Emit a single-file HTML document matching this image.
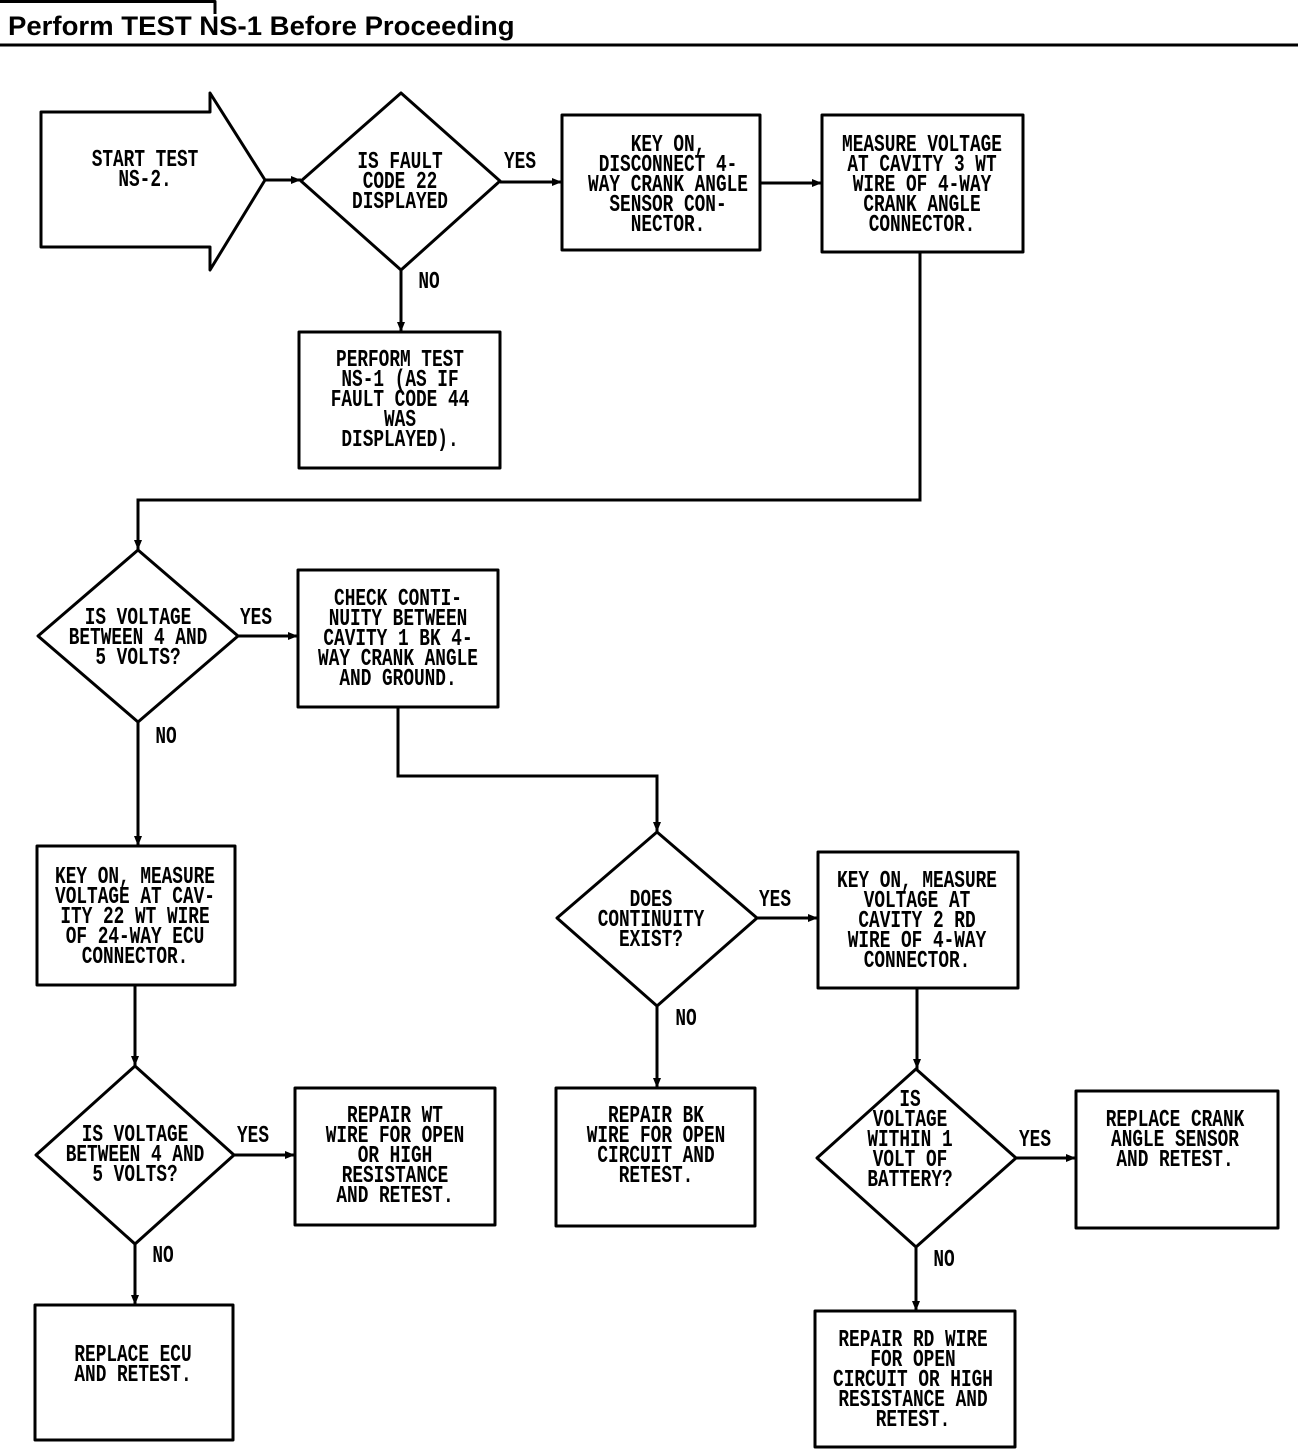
<!DOCTYPE html>
<html><head><meta charset="utf-8"><style>
body{margin:0;width:1312px;height:1450px;background:#fff;position:relative;overflow:hidden}
svg{position:absolute;left:0;top:0}
.t{position:absolute;width:300px;text-align:center;white-space:pre;line-height:20px;font:bold 24px/20px "Liberation Mono",monospace;color:#000;transform:scaleX(0.74);transform-origin:center;margin-top:3px}
.h{position:absolute;left:8px;top:11px;font:bold 27px "Liberation Sans",sans-serif;transform:scaleX(1.02);transform-origin:left;white-space:nowrap}
</style></head><body>
<svg width="1312" height="1450" viewBox="0 0 1312 1450">
<defs><marker id="a" markerWidth="10" markerHeight="8" refX="10" refY="4" orient="auto" markerUnits="userSpaceOnUse"><path d="M0,0L10,4L0,8Z" fill="#000"/></marker></defs>
<g fill="none" stroke="#000" stroke-width="3" stroke-linejoin="round">
<path d="M0,1.5H215V14"/>
<path d="M0,45H1298"/>
<polygon points="41,112 210,112 210,93 265,180 210,270 210,247 41,247"/>
<polygon points="401,93 500,181 401,270 301,181"/>
<polygon points="138,550 238,636 138,722 38,636"/>
<polygon points="135,1066 234,1155 135,1244 36,1155"/>
<polygon points="657,832 757,918 657,1006 557,918"/>
<polygon points="916,1069 1016,1158 916,1247 817,1158"/>
<rect x="562" y="115" width="198" height="135"/>
<rect x="822" y="115" width="201" height="137"/>
<rect x="299" y="332" width="201" height="136"/>
<rect x="298" y="570" width="200" height="137"/>
<rect x="37" y="846" width="198" height="139"/>
<rect x="295" y="1088" width="200" height="137"/>
<rect x="35" y="1305" width="198" height="135"/>
<rect x="818" y="852" width="200" height="136"/>
<rect x="556" y="1088" width="199" height="138"/>
<rect x="1076" y="1091" width="202" height="137"/>
<rect x="815" y="1311" width="200" height="136"/>
</g>
<g fill="none" stroke="#000" stroke-width="3" marker-end="url(#a)">
<path d="M265,180H301"/>
<path d="M500,182H562"/>
<path d="M760,183H822"/>
<path d="M401,270V332"/>
<path d="M920,252V500H138V550"/>
<path d="M238,636H298"/>
<path d="M398,707V776H657V832"/>
<path d="M138,722V846"/>
<path d="M135,985V1066"/>
<path d="M234,1155H295"/>
<path d="M135,1244V1305"/>
<path d="M757,918H818"/>
<path d="M657,1006V1088"/>
<path d="M917,988V1069"/>
<path d="M1016,1158H1076"/>
<path d="M916,1247V1311"/>
</g>
</svg>
<div class="h">Perform TEST NS-1 Before Proceeding</div>
<div class="t" style="left:-5px;top:148px">START TEST
NS-2.</div>
<div class="t" style="left:250px;top:150px">IS FAULT
CODE 22
DISPLAYED</div>
<div class="t" style="left:370px;top:150px">YES</div>
<div class="t" style="left:279px;top:270px">NO</div>
<div class="t" style="left:518px;top:133px">KEY ON,
DISCONNECT 4-
WAY CRANK ANGLE
SENSOR CON-
NECTOR.</div>
<div class="t" style="left:772px;top:133px">MEASURE VOLTAGE
AT CAVITY 3 WT
WIRE OF 4-WAY
CRANK ANGLE
CONNECTOR.</div>
<div class="t" style="left:250px;top:348px">PERFORM TEST
NS-1 (AS IF
FAULT CODE 44
WAS
DISPLAYED).</div>
<div class="t" style="left:-12px;top:606px">IS VOLTAGE
BETWEEN 4 AND
5 VOLTS?</div>
<div class="t" style="left:106px;top:606px">YES</div>
<div class="t" style="left:16px;top:725px">NO</div>
<div class="t" style="left:248px;top:587px">CHECK CONTI-
NUITY BETWEEN
CAVITY 1 BK 4-
WAY CRANK ANGLE
AND GROUND.</div>
<div class="t" style="left:-15px;top:865px">KEY ON, MEASURE
VOLTAGE AT CAV-
ITY 22 WT WIRE
OF 24-WAY ECU
CONNECTOR.</div>
<div class="t" style="left:-15px;top:1123px">IS VOLTAGE
BETWEEN 4 AND
5 VOLTS?</div>
<div class="t" style="left:103px;top:1124px">YES</div>
<div class="t" style="left:13px;top:1244px">NO</div>
<div class="t" style="left:245px;top:1104px">REPAIR WT
WIRE FOR OPEN
OR HIGH
RESISTANCE
AND RETEST.</div>
<div class="t" style="left:-17px;top:1343px">REPLACE ECU
AND RETEST.</div>
<div class="t" style="left:501px;top:888px">DOES
CONTINUITY
EXIST?</div>
<div class="t" style="left:625px;top:888px">YES</div>
<div class="t" style="left:536px;top:1007px">NO</div>
<div class="t" style="left:767px;top:869px">KEY ON, MEASURE
VOLTAGE AT
CAVITY 2 RD
WIRE OF 4-WAY
CONNECTOR.</div>
<div class="t" style="left:506px;top:1104px">REPAIR BK
WIRE FOR OPEN
CIRCUIT AND
RETEST.</div>
<div class="t" style="left:760px;top:1088px">IS
VOLTAGE
WITHIN 1
VOLT OF
BATTERY?</div>
<div class="t" style="left:885px;top:1128px">YES</div>
<div class="t" style="left:794px;top:1248px">NO</div>
<div class="t" style="left:1025px;top:1108px">REPLACE CRANK
ANGLE SENSOR
AND RETEST.</div>
<div class="t" style="left:763px;top:1328px">REPAIR RD WIRE
FOR OPEN
CIRCUIT OR HIGH
RESISTANCE AND
RETEST.</div>
</body></html>
